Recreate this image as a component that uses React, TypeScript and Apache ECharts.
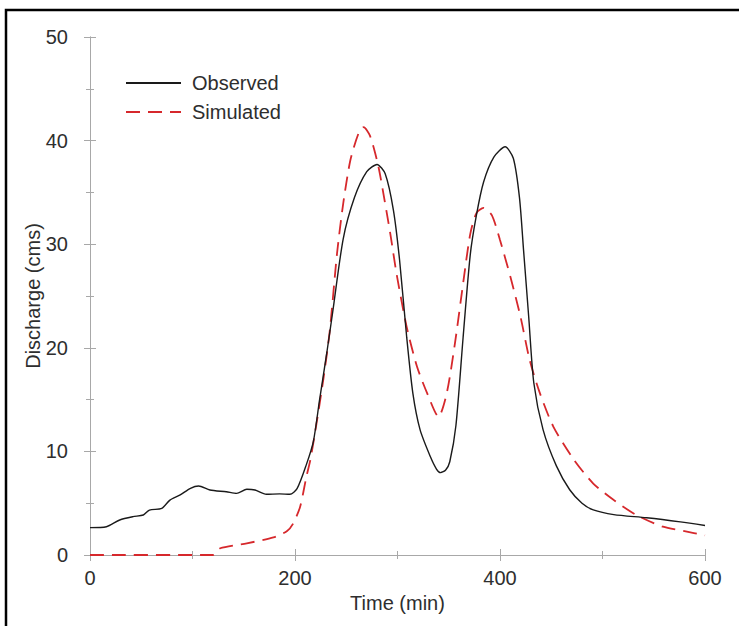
import React, { useEffect, useRef } from "react";
import * as echarts from "echarts";

const obsTime = [0, 16, 29, 42, 52, 58, 70, 78, 88, 98, 106, 117, 133, 143, 153, 161, 172, 185, 195, 202, 211, 218, 224, 231, 237, 247, 258, 270, 280, 288, 296, 302, 309, 315, 322, 332, 338, 342, 347, 351, 357, 364, 371, 377, 384, 394, 405, 413, 419, 423, 428, 433, 442, 455, 468, 480, 491, 511, 543, 576, 600];
const obsValue = [2.64, 2.73, 3.38, 3.7, 3.86, 4.34, 4.5, 5.3, 5.8, 6.44, 6.66, 6.27, 6.1, 5.95, 6.34, 6.27, 5.86, 5.9, 5.86, 6.4, 8.7, 11, 15, 19.5, 23.6, 30.5, 34.5, 37, 37.7, 36.8, 33.3, 28.5, 21, 15.6, 12.1, 9.5, 8.3, 7.95, 8.2, 9, 12.5, 21, 29, 32.8, 36, 38.4, 39.4, 38.3, 34.5, 29.4, 23, 16.6, 12.1, 8.6, 6.3, 5.0, 4.35, 3.9, 3.6, 3.2, 2.85];

const simTime = [0, 120, 127, 153, 179, 192, 198, 205, 211, 215, 221, 228, 234, 241, 247, 254, 262, 267, 273, 280, 283, 293, 299, 309, 319, 329, 340, 348, 356, 364, 371, 377, 384, 392, 400, 410, 420, 429, 439, 452, 472, 491, 511, 533, 559, 580, 600];
const simValue = [0, 0, 0.65, 1.13, 1.7, 2.3, 3.0, 4.66, 7.5, 9.2, 12.7, 17.2, 21.7, 29.1, 33.9, 38.1, 40.7, 41.3, 40.5, 38.1, 36.7, 31, 27.2, 22, 18.2, 15.6, 13.35, 15.6, 20.4, 26.2, 31, 33, 33.5, 32.8, 30.4, 26.9, 23, 18.8, 15.6, 12.4, 9.2, 6.9, 5.3, 3.86, 2.73, 2.3, 1.9];

const xTicks = { min: 0, max: 600, interval: 200 };
const yTicks = { min: 0, max: 50, interval: 10 };

const FONT = "'Liberation Sans', Arial, sans-serif";
const AXIS_GREY = "#a8a8a8";
const TEXT = "#2e2e2e";

export default function App() {
  const ref = useRef<HTMLDivElement>(null);
  useEffect(() => {
    document.body.style.margin = "0";
    const chart = echarts.init(ref.current!, null, { renderer: "svg" });
    const obsData = obsTime.map((t, i) => [t, obsValue[i]]);
    const simData = simTime.map((t, i) => [t, simValue[i]]);
    const axisCommon = {
      axisLine: { show: true, lineStyle: { color: AXIS_GREY, width: 1 } },
      axisTick: { show: true, inside: true, length: 6, lineStyle: { color: AXIS_GREY } },
      minorTick: { show: true, splitNumber: 2, length: 4, lineStyle: { color: AXIS_GREY } },
      splitLine: { show: false },
      minorSplitLine: { show: false },
    };
    chart.setOption({
      animation: false,
      backgroundColor: "#ffffff",
      grid: { left: 90, right: 34, top: 37, bottom: 71, containLabel: false },
      legend: {
        orient: "vertical",
        left: 125,
        top: 73,
        itemWidth: 55,
        itemHeight: 14,
        itemGap: 9,
        padding: 0,
        itemStyle: { opacity: 0 },
        textStyle: { fontFamily: FONT, fontSize: 20, color: TEXT, padding: [0, 0, 0, 6], lineHeight: 20 },
        data: ["Observed", "Simulated"],
      },
      xAxis: [
        {
          type: "value",
          position: "bottom",
          ...xTicks,
          ...axisCommon,
          axisLabel: { show: true, fontFamily: FONT, fontSize: 20, color: TEXT, margin: 13 },
          name: "Time (min)",
          nameLocation: "middle",
          nameGap: 38,
          nameMoveOverlap: false,
          nameTextStyle: { fontFamily: FONT, fontSize: 20, color: TEXT },
        },
        {
          type: "value",
          position: "top",
          ...xTicks,
          ...axisCommon,
          axisLabel: { show: false },
        },
      ],
      yAxis: [
        {
          type: "value",
          position: "left",
          ...yTicks,
          ...axisCommon,
          axisLabel: { show: true, fontFamily: FONT, fontSize: 20, color: TEXT, margin: 22 },
          name: "Discharge (cms)",
          nameLocation: "middle",
          nameGap: 47,
          nameMoveOverlap: false,
          nameTextStyle: { fontFamily: FONT, fontSize: 20, color: TEXT },
        },
        {
          type: "value",
          position: "right",
          ...yTicks,
          ...axisCommon,
          axisLabel: { show: false },
        },
      ],
      series: [
        {
          name: "Observed",
          type: "line",
          xAxisIndex: 0,
          yAxisIndex: 0,
          data: obsData,
          symbol: "none",
          smooth: 0.25,
          clip: false,
          lineStyle: { color: "#1a1a1a", width: 1.4, type: "solid" },
          itemStyle: { color: "#1a1a1a" },
          z: 3,
        },
        {
          name: "Simulated",
          type: "line",
          xAxisIndex: 0,
          yAxisIndex: 0,
          data: simData,
          symbol: "none",
          smooth: 0.25,
          clip: false,
          lineStyle: { color: "#d6282c", width: 1.8, type: [14, 8] },
          itemStyle: { color: "#d6282c" },
          z: 2,
        },
      ],
      graphic: [
        {
          type: "rect",
          shape: { x: 6, y: 10, width: 900, height: 900 },
          style: { fill: "none", stroke: "#000000", lineWidth: 2.5 },
          silent: true,
        },
      ],
    });
    return () => chart.dispose();
  }, []);
  return <div ref={ref} style={{ width: 739, height: 626 }} />;
}
